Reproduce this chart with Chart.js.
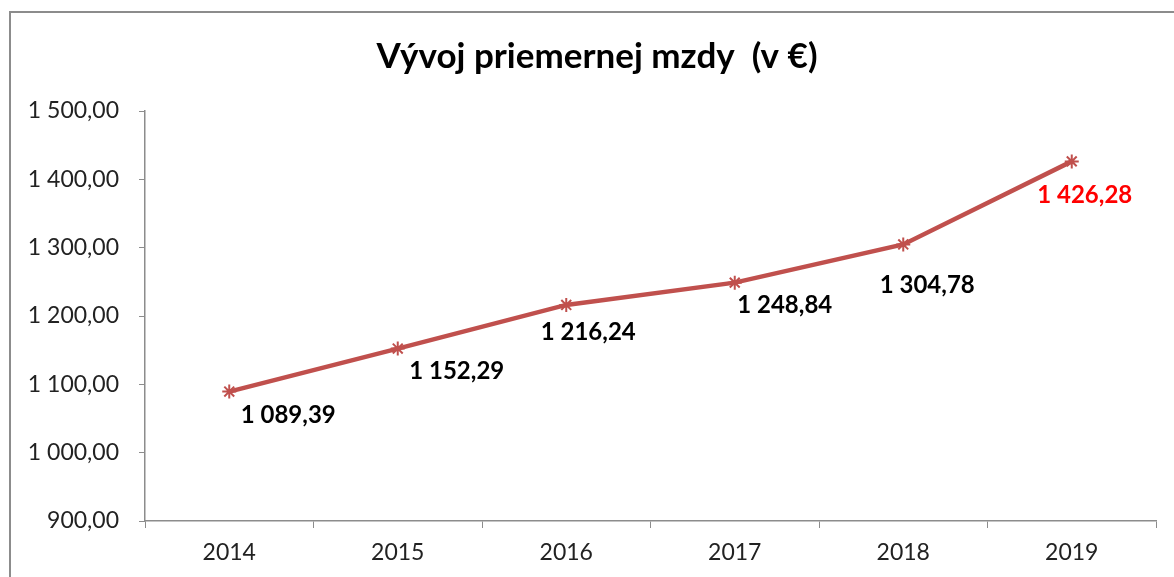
<!DOCTYPE html>
<html>
<head>
<meta charset="utf-8">
<script src="https://cdn.jsdelivr.net/npm/chart.js@4"></script>
<style>
  html, body { margin: 0; padding: 0; background: #fff; }
  #wrap { width: 1174px; height: 577px; position: relative; }
</style>
</head>
<body>
<div id="wrap"><canvas id="wageChart"></canvas></div>
<script>
// Data
const years = ["2014", "2015", "2016", "2017", "2018", "2019"];
const avgWage = [1089.39, 1152.29, 1216.24, 1248.84, 1304.78, 1426.28];
const yTicks = [900, 1000, 1100, 1200, 1300, 1400, 1500];
const chartTitle = "Vývoj priemernej mzdy  (v €)";

// label placement relative to each point (styling only)
const labelShiftX = [59, 59, 22, 50, 24, 13];
const labelShiftY = [24, 23, 27, 23, 41, 34];
const labelColors = ["#000", "#000", "#000", "#000", "#000", "#ff0000"];

// Slovak style number: 1 089,39
function skNumber(v) {
  const parts = v.toFixed(2).split(".");
  const intPart = parts[0].replace(/\B(?=(\d{3})+(?!\d))/g, " ");
  return intPart + "," + parts[1];
}

// Draw value labels next to points
const valueLabels = {
  id: "valueLabels",
  afterDatasetsDraw(chart) {
    const ctx = chart.ctx;
    const meta = chart.getDatasetMeta(0);
    ctx.save();
    ctx.font = "bold 24px Lato";
    ctx.textAlign = "center";
    ctx.textBaseline = "middle";
    meta.data.forEach((pt, i) => {
      ctx.fillStyle = labelColors[i];
      ctx.fillText(skNumber(avgWage[i]), pt.x + labelShiftX[i], pt.y + labelShiftY[i]);
    });
    ctx.restore();
  }
};

// Outer frame + title, like the spreadsheet chart box
const frame = {
  id: "frame",
  beforeDraw(chart) {
    const ctx = chart.ctx;
    ctx.save();
    ctx.fillStyle = "#fff";
    ctx.fillRect(0, 0, chart.width, chart.height);
    ctx.restore();
  },
  afterDraw(chart) {
    const ctx = chart.ctx;
    ctx.save();
    ctx.font = "bold 35px Lato";
    ctx.fillStyle = "#000";
    ctx.textAlign = "center";
    ctx.textBaseline = "middle";
    ctx.fillText(chartTitle, 597, 57);
    ctx.strokeStyle = "#8c8c8c";
    ctx.lineWidth = 2;
    ctx.strokeRect(10, 12, chart.width + 20, chart.height + 20);
    ctx.restore();
  }
};

new Chart(document.getElementById("wageChart"), {
  type: "line",
  data: {
    labels: years,
    datasets: [{
      data: avgWage,
      borderColor: "#c0504d",
      backgroundColor: "#c0504d",
      borderWidth: 4.5,
      pointStyle: "star",
      pointRadius: 7,
      pointBorderWidth: 2,
      pointBorderColor: "#c0504d",
      tension: 0,
      fill: false
    }]
  },
  options: {
    responsive: true,
    maintainAspectRatio: false,
    animation: false,
    layout: { padding: { left: 0, right: 18, top: 111, bottom: 0 } },
    plugins: {
      legend: { display: false },
      tooltip: { enabled: false },
      title: { display: false }
    },
    scales: {
      x: {
        offset: true,
        grid: {
          offset: true,
          drawOnChartArea: false,
          color: "#8c8c8c",
          tickLength: 7
        },
        border: { color: "#8c8c8c", width: 1.5 },
        ticks: {
          color: "#222",
          font: { family: "Lato", size: 23 },
          padding: 11,
          maxRotation: 0
        },
        afterFit(scale) { scale.height = 56; }
      },
      y: {
        min: 900,
        max: 1500,
        afterBuildTicks(scale) {
          scale.ticks = yTicks.map(v => ({ value: v }));
        },
        grid: {
          drawOnChartArea: false,
          color: "#8c8c8c",
          tickLength: 6
        },
        border: { color: "#8c8c8c", width: 1.5 },
        ticks: {
          color: "#222",
          font: { family: "Lato", size: 23 },
          padding: 20,
          callback: v => skNumber(v)
        },
        afterFit(scale) { scale.width = 145; }
      }
    }
  },
  plugins: [valueLabels, frame]
});
</script>
</body>
</html>
